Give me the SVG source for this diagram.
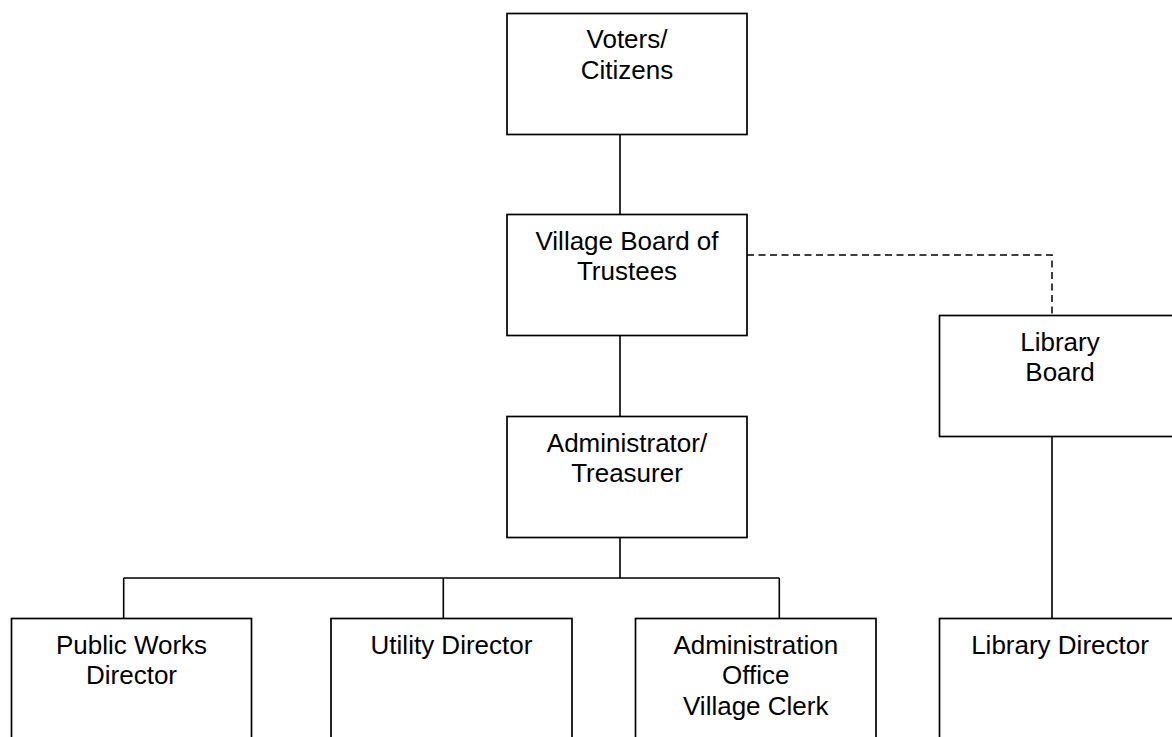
<svg xmlns="http://www.w3.org/2000/svg" width="1172" height="737" viewBox="0 0 1172 737">
<style>
.box{fill:#fff;stroke:#000;stroke-width:1.7}
.ln{fill:none;stroke:#000;stroke-width:1.6}
.dash{fill:none;stroke:#000;stroke-width:1.5;stroke-dasharray:7 4.5}
text{font-family:"Liberation Sans",Arial,sans-serif;font-size:26px;fill:#000;text-anchor:middle}
</style>
<rect width="1172" height="737" fill="#fff"/>
<g id="connectors">
<path class="ln" d="M620 134.5V214.5M620 335.5V416.5M620 537.5V578M123.7 578H779.3M123.7 578V618.5M443.3 578V618.5M779.3 578V618.5M1052 436.5V618.5"/>
<path class="dash" d="M747 255H1052V315.5"/>
</g>
<g id="voters">
<rect class="box" x="507" y="13.5" width="240" height="121"/>
<text x="627" y="48.3">Voters/</text>
<text x="627" y="79">Citizens</text>
</g>
<g id="board">
<rect class="box" x="507" y="214.5" width="240" height="121"/>
<text x="627" y="249.7">Village Board of</text>
<text x="627" y="280.4">Trustees</text>
</g>
<g id="library-board">
<rect class="box" x="939.5" y="315.5" width="241" height="121"/>
<text x="1060" y="350.5">Library</text>
<text x="1060" y="381.2">Board</text>
</g>
<g id="administrator">
<rect class="box" x="507" y="416.5" width="240" height="121"/>
<text x="627" y="451.7">Administrator/</text>
<text x="627" y="482.4">Treasurer</text>
</g>
<g id="public-works">
<rect class="box" x="11.5" y="618.5" width="240" height="140"/>
<text x="131.5" y="653.5">Public Works</text>
<text x="131.5" y="684.2">Director</text>
</g>
<g id="utility">
<rect class="box" x="331" y="618.5" width="241" height="140"/>
<text x="451.5" y="653.5">Utility Director</text>
</g>
<g id="admin-office">
<rect class="box" x="635.5" y="618.5" width="240.5" height="140"/>
<text x="755.75" y="653.5">Administration</text>
<text x="755.75" y="684.2">Office</text>
<text x="755.75" y="714.9">Village Clerk</text>
</g>
<g id="library-director">
<rect class="box" x="939.5" y="618.5" width="241" height="140"/>
<text x="1060" y="653.5">Library Director</text>
</g>
</svg>
